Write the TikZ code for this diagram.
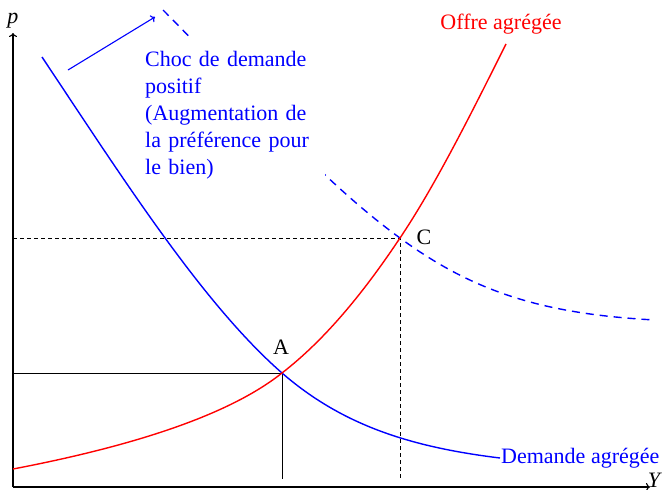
\documentclass[tikz,border=0pt]{standalone}
\usepackage{fontspec}
\setmainfont{Liberation Serif}
\usetikzlibrary{arrows.meta}
\begin{document}
\begin{tikzpicture}[x=1pt,y=-1pt,
  axis/.style={line width=1.1pt,-{To[length=4pt,width=8pt]}},
  guide/.style={line width=0.6pt,black},
  demand/.style={blue,line width=1.4pt},
  supply/.style={red,line width=1.4pt},
  lbl/.style={font=\fontsize{22}{27}\selectfont,inner sep=0pt}
]
\useasboundingbox (0,0) rectangle (667,490);
% key points
\coordinate (O) at (13,487);
\coordinate (ytop) at (13,33);
\coordinate (xend) at (650,487);
\coordinate (A) at (282,373);
\coordinate (C) at (400,238);
\coordinate (Ay) at (13,373);
\coordinate (Ax) at (282,479);
\coordinate (Cy) at (13,238);
\coordinate (Cx) at (400,479);
\coordinate (D0) at (42,57);
\coordinate (D1) at (500,458);
\coordinate (S0) at (13,469);
\coordinate (S1) at (506,44);
\coordinate (N0) at (163,10);
\coordinate (N1) at (655,320);
% axes
\draw[axis] (O) -- (ytop);
\draw[axis] (O) -- (xend);
\node[lbl,font=\fontsize{22}{27}\selectfont\itshape] (p) at (13,21) {p};
\node[lbl,font=\fontsize{22}{27}\selectfont\itshape] (Y) at (654,480) {Y};
% guides
\draw[guide] (Ay) -- (A) -- (Ax);
\draw[guide,dashed,dash pattern=on 4pt off 3pt] (Cy) -- (C) -- (Cx);
% shifted demand (dashed)
\draw[demand,dashed,dash pattern=on 8pt off 6pt]
  (N0) .. controls (243,90) and (320,180) .. (C)
       .. controls (475,293) and (545,314) .. (N1);
% text box hiding part of the dashed curve
\node[lbl,fill=white,anchor=north west,inner xsep=5pt,inner ysep=12pt,
      text width=175pt,align=left,text=blue] (choc) at (140,39)
  {Choc de demande\\ positif\\ (Augmentation de\\ la préférence pour\\ le bien)};
% demand
\draw[demand] (D0) .. controls (122,177) and (202,303) .. (A)
                   .. controls (342,425) and (410,447) .. (D1);
% supply
\draw[supply] (S0) .. controls (144,444) and (233,412) .. (A)
                   .. controls (322,342) and (360,298) .. (C)
                   .. controls (435,186) and (471,114) .. (S1);
% arrow
\coordinate (arrS) at (68,70);
\coordinate (arrE) at (155,17);
\draw[blue,line width=1.1pt,-{To[length=4pt,width=8pt]}] (arrS) -- (arrE);
% labels
\node[lbl] (labA) at (281,347) {A};
\node[lbl] (labC) at (424,237) {C};
\node[lbl,text=red] (offre) at (501,24) {Offre agrégée};
\node[lbl,text=blue,anchor=base west] (dem) at (501,463) {Demande agrégée};
\end{tikzpicture}
\end{document}
